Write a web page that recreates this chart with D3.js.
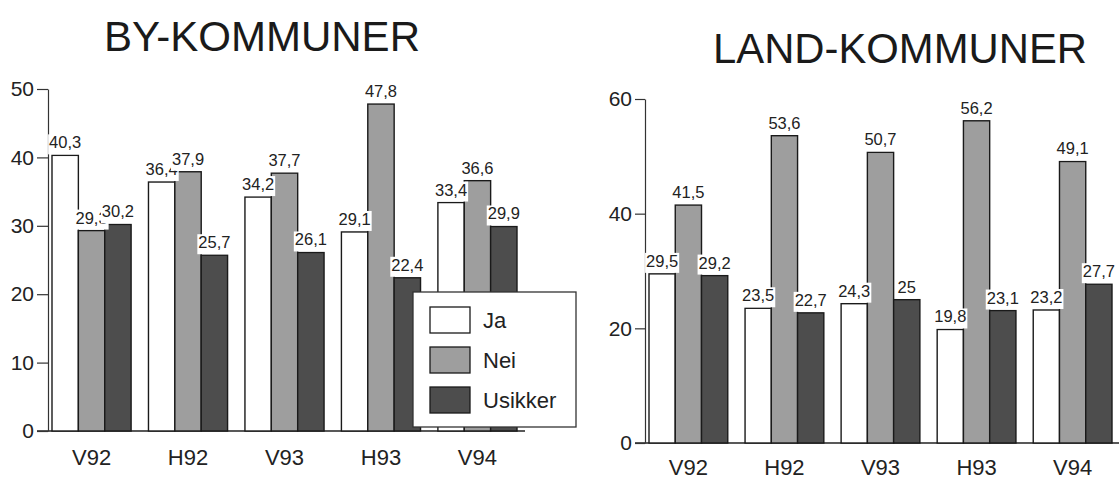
<!DOCTYPE html>
<html>
<head>
<meta charset="utf-8">
<script src="https://cdn.jsdelivr.net/npm/d3@7"></script>
<style>
  html, body { margin: 0; padding: 0; background: #fff; }
  svg { display: block; font-family: "Liberation Sans", Arial, sans-serif; }
</style>
</head>
<body>
<svg id="chart" width="1119" height="481"></svg>
<script>
// ---- data ----
const categories = ["V92", "H92", "V93", "H93", "V94"];
const seriesNames = ["Ja", "Nei", "Usikker"];
const byJa = [40.3, 36.4, 34.2, 29.1, 33.4];
const byNei = [29.3, 37.9, 37.7, 47.8, 36.6];
const byUsikker = [30.2, 25.7, 26.1, 22.4, 29.9];
const landJa = [29.5, 23.5, 24.3, 19.8, 23.2];
const landNei = [41.5, 53.6, 50.7, 56.2, 49.1];
const landUsikker = [29.2, 22.7, 25, 23.1, 27.7];
const byTicks = [0, 10, 20, 30, 40, 50];
const landTicks = [0, 20, 40, 60];
const titles = ["BY-KOMMUNER", "LAND-KOMMUNER"];

const colors = { "Ja": "#ffffff", "Nei": "#9e9e9e", "Usikker": "#4d4d4d" };
const fmt = v => String(v).replace(".", ",");

const svg = d3.select("#chart");

function drawPanel(cfg) {
  const g = svg.append("g");
  const x0 = d3.scaleBand().domain(categories).range(cfg.xRange).paddingInner(0.18).paddingOuter(0);
  const x1 = d3.scaleBand().domain(seriesNames).range([0, x0.bandwidth()]).padding(0);
  const y = d3.scaleLinear().domain([0, cfg.max]).range([cfg.y0, cfg.yTop]);

  const rows = [];
  categories.forEach((c, i) => {
    seriesNames.forEach((s, j) => rows.push({ cat: c, ser: s, val: cfg.series[j][i] }));
  });

  // baseline
  g.append("line")
    .attr("x1", cfg.axisX - cfg.tickSize).attr("x2", cfg.baseEnd)
    .attr("y1", y(0)).attr("y2", y(0))
    .attr("stroke", "#222").attr("stroke-width", 1.4);

  // y axis
  const yAxis = d3.axisLeft(y).tickValues(cfg.ticks).tickSize(cfg.tickSize).tickPadding(3).tickSizeOuter(0);
  const ag = g.append("g").attr("transform", `translate(${cfg.axisX},0)`).call(yAxis);
  ag.select(".domain").attr("stroke", "#333").attr("stroke-width", 1.2);
  ag.selectAll(".tick line").attr("stroke", "#333").attr("stroke-width", 1.2);
  ag.selectAll(".tick text").attr("font-size", 21).attr("fill", "#222")
    .attr("font-family", "Liberation Sans, Arial, sans-serif");

  // bars
  g.selectAll("rect.bar").data(rows).join("rect")
    .attr("class", "bar")
    .attr("x", d => x0(d.cat) + x1(d.ser))
    .attr("y", d => y(d.val))
    .attr("width", x1.bandwidth())
    .attr("height", d => y(0) - y(d.val))
    .attr("fill", d => colors[d.ser])
    .attr("stroke", "#1a1a1a").attr("stroke-width", 1.4);

  // value labels with white boxes
  const lg = g.append("g");
  rows.forEach(d => {
    const cx = x0(d.cat) + x1(d.ser) + x1.bandwidth() / 2;
    const top = y(d.val);
    const lab = lg.append("g");
    const rect = lab.append("rect").attr("fill", "#fff");
    const t = lab.append("text")
      .attr("x", cx).attr("y", top - 7)
      .attr("text-anchor", "middle")
      .attr("font-size", 16.5).attr("fill", "#222")
      .text(fmt(d.val));
    const w = t.node().getComputedTextLength();
    rect.attr("x", cx - w / 2 - 1).attr("y", top - 21)
      .attr("width", w + 2).attr("height", 20);
  });

  // category labels
  g.selectAll("text.cat").data(categories).join("text")
    .attr("class", "cat")
    .attr("x", d => x0(d) + x0.bandwidth() / 2)
    .attr("y", cfg.catY)
    .attr("text-anchor", "middle")
    .attr("font-size", 22).attr("fill", "#222")
    .text(d => d);

  // title
  g.append("text")
    .attr("x", cfg.titleX).attr("y", cfg.titleY)
    .attr("font-size", 43).attr("fill", "#1a1a1a")
    .attr("textLength", cfg.titleW).attr("lengthAdjust", "spacingAndGlyphs")
    .text(cfg.title);
}

drawPanel({
  xRange: [52, 517], y0: 431, yTop: 89, max: 50, ticks: byTicks,
  axisX: 48, tickSize: 11, baseEnd: 525, catY: 465,
  series: [byJa, byNei, byUsikker],
  title: titles[0], titleX: 104, titleY: 51, titleW: 316
});

drawPanel({
  xRange: [649, 1112], y0: 443, yTop: 99, max: 60, ticks: landTicks,
  axisX: 645, tickSize: 10, baseEnd: 1119, catY: 475,
  series: [landJa, landNei, landUsikker],
  title: titles[1], titleX: 713, titleY: 63, titleW: 374
});

// legend (drawn over the left panel)
const leg = svg.append("g");
leg.append("rect").attr("x", 413).attr("y", 292).attr("width", 163).attr("height", 135)
  .attr("fill", "#fff").attr("stroke", "#333").attr("stroke-width", 1.3);
seriesNames.forEach((s, i) => {
  const yy = 307 + i * 40;
  leg.append("rect").attr("x", 430).attr("y", yy).attr("width", 40).attr("height", 26)
    .attr("fill", colors[s]).attr("stroke", "#1a1a1a").attr("stroke-width", 1.3);
  leg.append("text").attr("x", 483).attr("y", yy + 21)
    .attr("font-size", 22).attr("fill", "#222").text(s);
});
</script>
</body>
</html>
